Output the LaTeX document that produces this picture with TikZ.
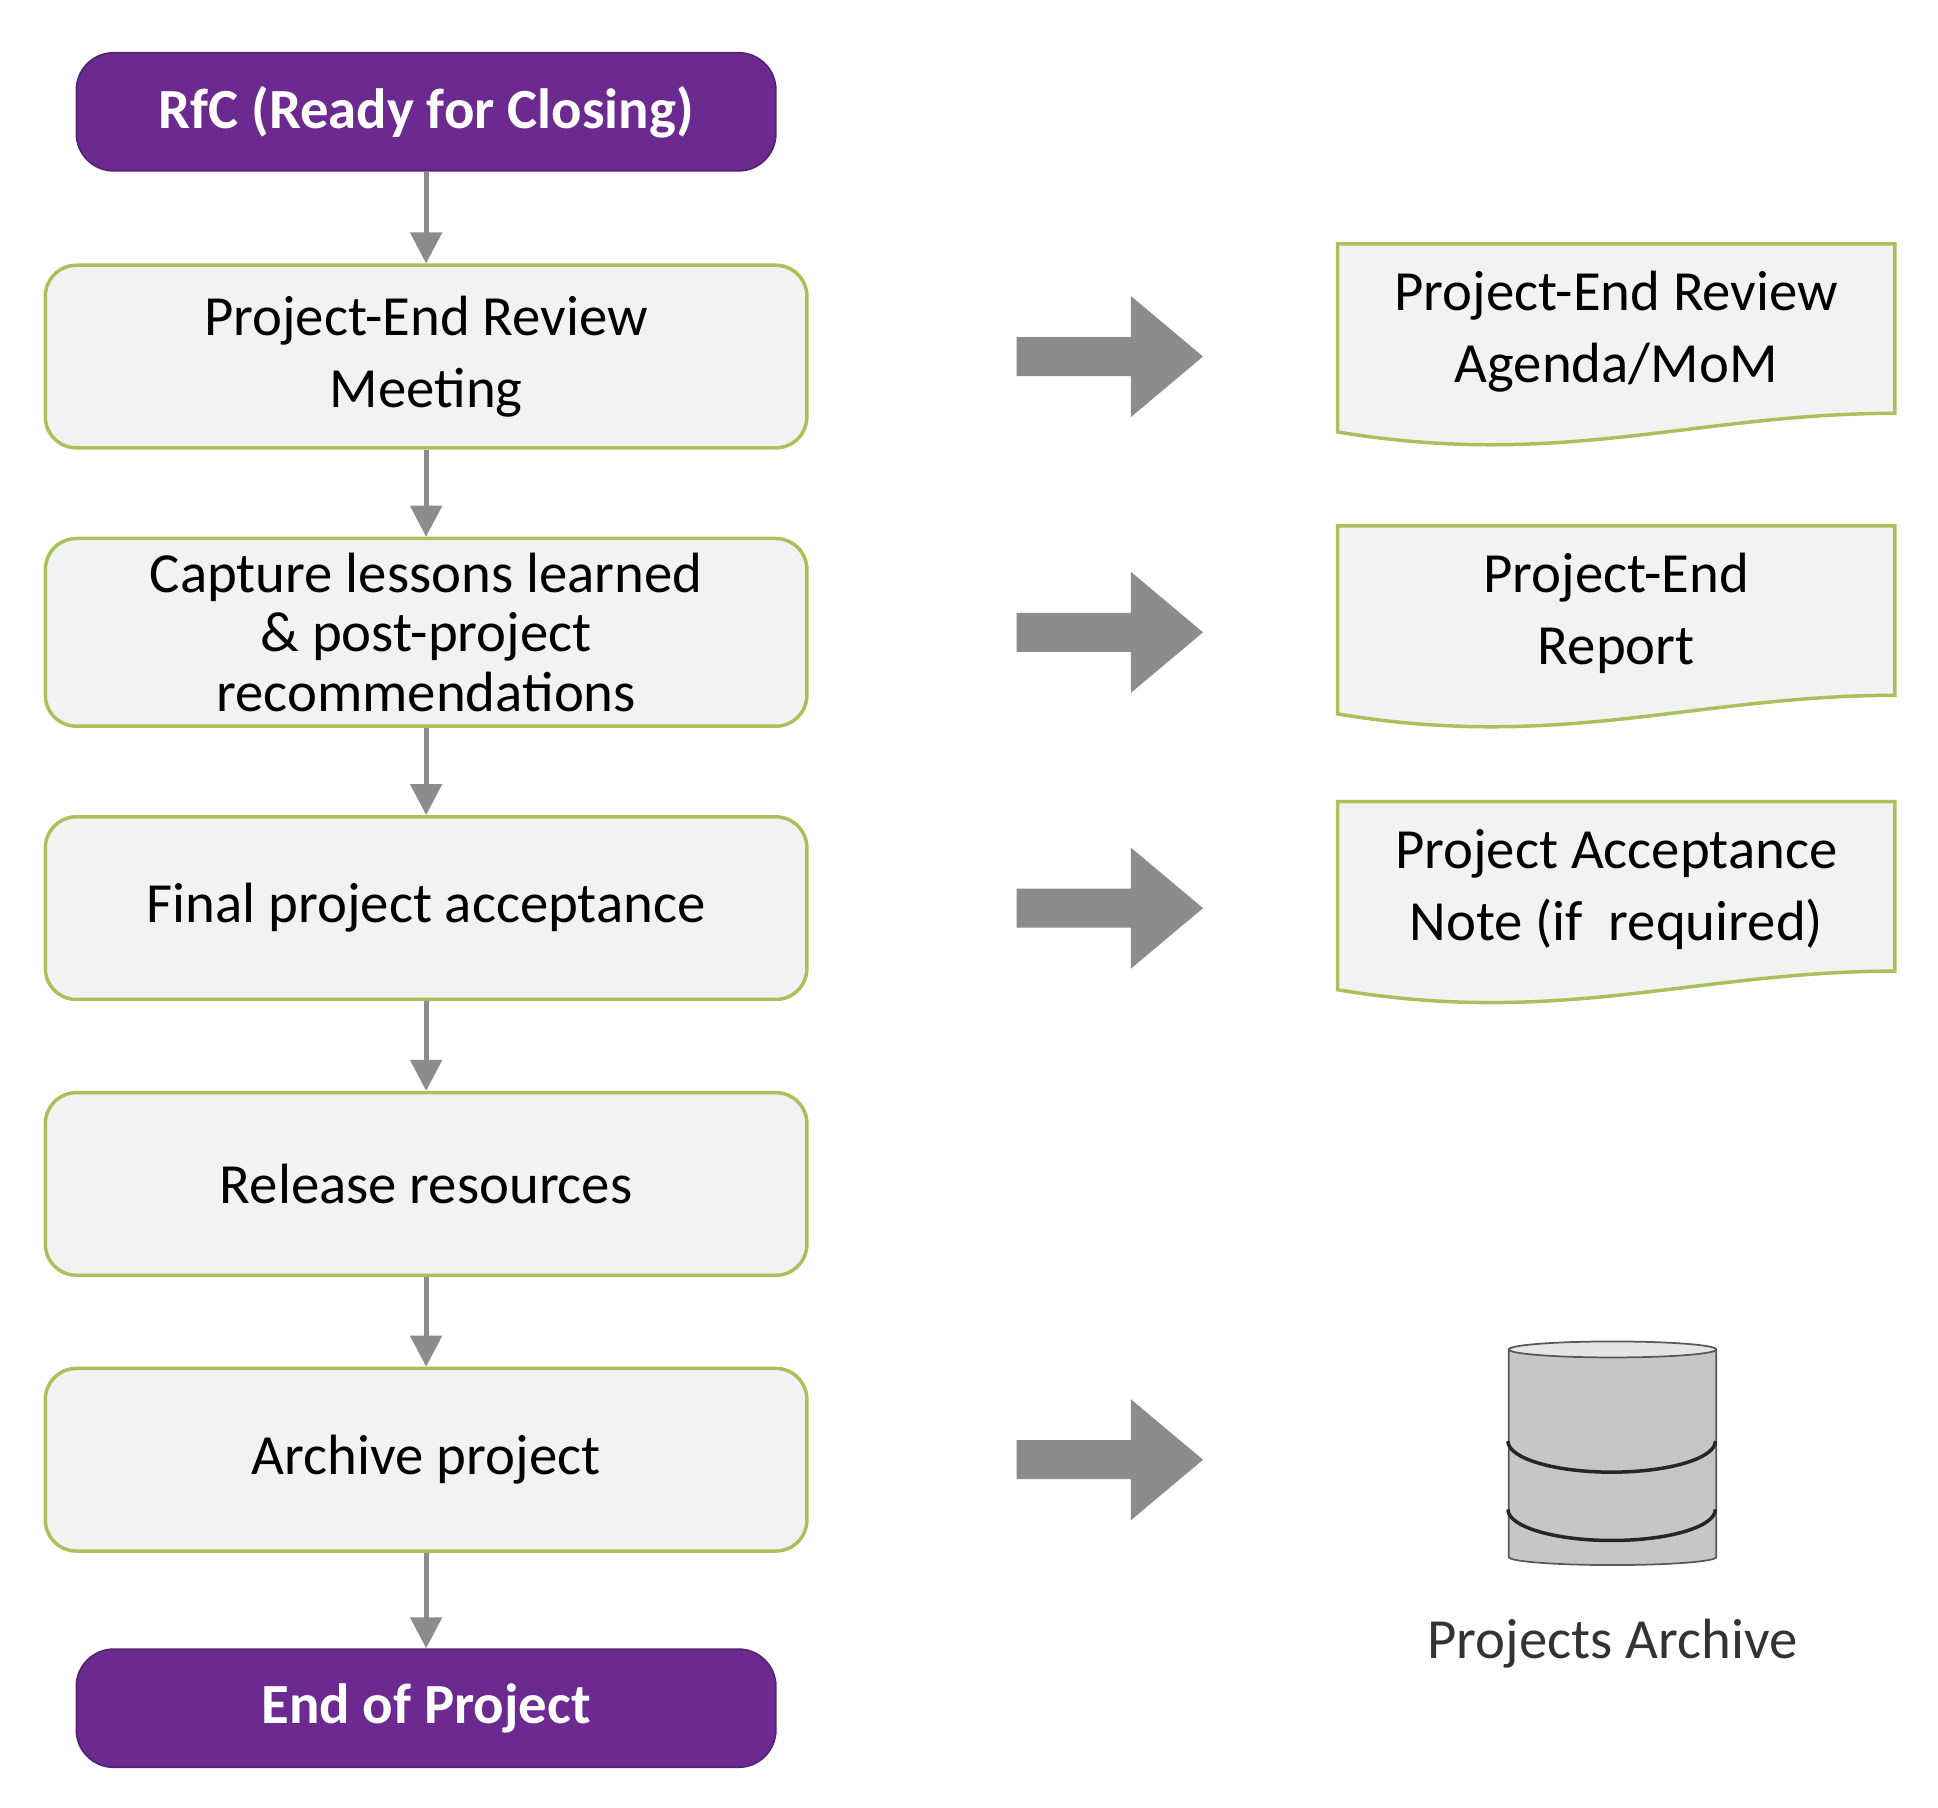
\documentclass[tikz,border=0pt]{standalone}
\usepackage{fontspec}
\setmainfont{Carlito}
\usetikzlibrary{shapes.geometric,shapes.arrows,arrows.meta,positioning,calc}
\definecolor{rfcpurple}{HTML}{6C2A90}
\definecolor{boxgreen}{HTML}{A9C15A}
\definecolor{boxfill}{HTML}{F2F2F2}
\definecolor{arrgray}{HTML}{8C8C8C}

\begin{document}
\begin{tikzpicture}[
    node distance=2.22cm,
    font=\fontsize{13pt}{16.5pt}\selectfont,
    terminal/.style={rectangle, rounded corners=0.3cm, fill=rfcpurple, draw=rfcpurple!80!black,
        text=white, font=\fontsize{13pt}{16.5pt}\selectfont\bfseries, minimum width=5.63cm, minimum height=0.95cm},
    stepbox/.style={rectangle, rounded corners=0.25cm, draw=boxgreen, thick, fill=boxfill,
        minimum width=6.13cm, minimum height=1.47cm, align=center},
    doc/.style={rectangle, minimum width=4.47cm, minimum height=1.4cm, align=center},
    bigarrow/.style={single arrow, fill=arrgray, draw=none, minimum width=0.95cm,
        minimum height=1.5cm, inner sep=0.15cm, single arrow tip angle=80, single arrow head extend=0.33cm},
    arrow/.style={-{Triangle[length=2.5mm,width=2.5mm]}, arrgray, line width=1.2pt}
]
\useasboundingbox (0,0) rectangle (15.6,-14.55);

% Flow
\node[terminal] (rfc) at (3.43,-0.9) {RfC (Ready for Closing)};
\node[stepbox, below of=rfc, node distance=1.97cm] (review) {Project-End Review\\Meeting};
\node[stepbox, below of=review, font=\fontsize{13pt}{13.6pt}\selectfont] (lessons) {Capture lessons learned\\\& post-project\\recommendations};
\node[stepbox, below of=lessons] (accept) {Final project acceptance};
\node[stepbox, below of=accept] (release) {Release resources};
\node[stepbox, below of=release] (archive) {Archive project};
\node[terminal, below of=archive, node distance=2.0cm] (eop) {End of Project};

% Outputs
\foreach \src in {review, lessons, accept, archive}{
    \node[bigarrow, right of=\src, node distance=5.41cm] (\src arr) {};
}

\node[doc, right of=review, node distance=9.58cm, yshift=0.2cm] (reviewdoc) {};
\node[doc, right of=lessons, node distance=9.58cm, yshift=0.15cm] (reportdoc) {};
\node[doc, right of=accept, node distance=9.58cm, yshift=0.15cm] (acceptdoc) {};
\foreach \d in {reviewdoc, reportdoc, acceptdoc}{
    \draw[boxgreen, thick, fill=boxfill]
        (\d.north west) -- (\d.north east) -- ($(\d.south east)+(0,0.05)$)
        .. controls ($(\d.south east)+(-1.6,0.05)$) and ($(\d.south west)+(1.8,-0.4)$) ..
        ($(\d.south west)+(0,-0.1)$) -- cycle;
}
\node[doc] (reviewtxt) at (reviewdoc) {Project-End Review\\Agenda/MoM};
\node[doc] (reporttxt) at (reportdoc) {Project-End\\Report};
\node[doc] (accepttxt) at (acceptdoc) {Project Acceptance\\Note (if~ required)};

% Archive store
\node[cylinder, shape border rotate=90, aspect=0.55, minimum width=1.67cm, minimum height=1.8cm,
    draw=gray!70!black, cylinder uses custom fill, cylinder body fill=gray!45,
    cylinder end fill=gray!20, right of=archive, node distance=9.55cm] (db) {};
\draw[gray!30!black, thick] ($(db.west)+(0,0.15)$)
    arc[start angle=180, end angle=360, x radius=0.835cm, y radius=0.25cm];
\draw[gray!30!black, thick] ($(db.west)+(0,-0.4)$)
    arc[start angle=180, end angle=360, x radius=0.835cm, y radius=0.25cm];
\node[below=0.3cm of db, text=black!80] (dblabel) {Projects Archive};

% Arrows
\draw[arrow] (rfc) -- (review);
\draw[arrow] (review) -- (lessons);
\draw[arrow] (lessons) -- (accept);
\draw[arrow] (accept) -- (release);
\draw[arrow] (release) -- (archive);
\draw[arrow] (archive) -- (eop);

\end{tikzpicture}
\end{document}
